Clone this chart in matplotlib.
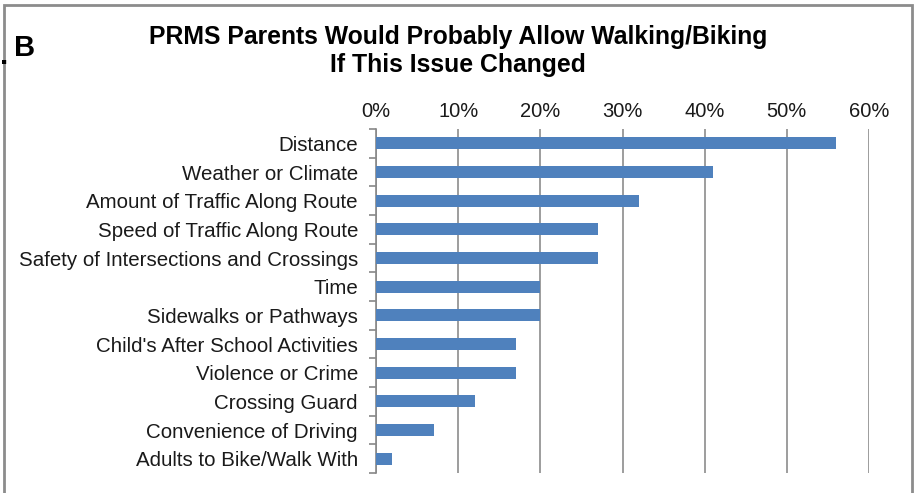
import numpy as np
import matplotlib.pyplot as plt
from matplotlib.patches import Rectangle
from matplotlib.ticker import PercentFormatter, FixedLocator

# Data (percent of parents)
issues = ["Distance", "Weather or Climate", "Amount of Traffic Along Route",
          "Speed of Traffic Along Route", "Safety of Intersections and Crossings",
          "Time", "Sidewalks or Pathways", "Child's After School Activities",
          "Violence or Crime", "Crossing Guard", "Convenience of Driving",
          "Adults to Bike/Walk With"]
percents = [56, 41, 32, 27, 27, 20, 20, 17, 17, 12, 7, 2]
x_ticks = [0, 10, 20, 30, 40, 50, 60]

plt.rcParams['font.family'] = ['Liberation Sans', 'DejaVu Sans']

W, H = 914, 493
fig = plt.figure(figsize=(W / 100, H / 100), dpi=100)

# axes box in pixels: left 376, right 869, top 129, bottom 473
ax = fig.add_axes([376 / W, 1 - 473 / H, (869 - 376) / W, (473 - 129) / H])

pos = np.arange(len(issues))
ax.barh(pos, percents, height=0.42, color='#4F81BD', zorder=3)
ax.set_ylim(len(issues) - 0.5, -0.5)
ax.set_xlim(0, 60)

ax.xaxis.tick_top()
ax.set_xticks(x_ticks)
ax.xaxis.set_major_formatter(PercentFormatter(decimals=0))
ax.tick_params(axis='x', length=0, labelsize=14.5, pad=6, colors='#1a1a1a')

ax.yaxis.set_major_locator(FixedLocator(np.arange(len(issues) + 1) - 0.5))
ax.yaxis.set_minor_locator(FixedLocator(pos))
ax.set_yticklabels([], minor=False)
ax.set_yticklabels(issues, minor=True)
ax.tick_params(axis='y', which='major', length=5, color='#888888', width=1.2)
ax.tick_params(axis='y', which='minor', length=0, labelsize=14.8, pad=13, colors='#1a1a1a')

ax.grid(axis='x', color='#8c8c8c', linewidth=1.2, zorder=0)
for s in ['top', 'right', 'bottom']:
    ax.spines[s].set_visible(False)
ax.spines['left'].set_color('#888888')
ax.spines['left'].set_linewidth(1.2)

fig.text(458 / W, 1 - 51 / H, "PRMS Parents Would Probably Allow Walking/Biking\nIf This Issue Changed",
         ha='center', va='center', fontsize=17.8, fontweight='bold', linespacing=1.25)
fig.text(14 / W, 1 - 48 / H, "B", ha='left', va='center', fontsize=21, fontweight='bold')
fig.text(0 / W, 1 - 56 / H, ".", ha='left', va='center', fontsize=21, fontweight='bold')

# panel frame
fig.patches.append(Rectangle((4 / W, -0.05), (912 - 4) / W, 1.05 - 5 / H,
                             transform=fig.transFigure, fill=False,
                             edgecolor='#8c8c8c', linewidth=2))

fig.savefig('out.png', dpi=100)
